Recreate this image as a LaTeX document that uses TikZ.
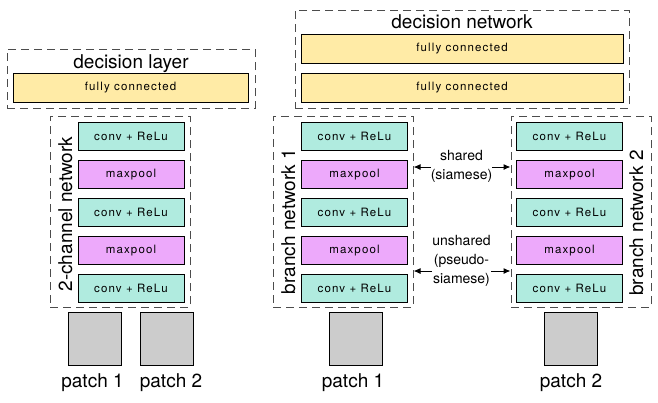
\documentclass[tikz,border=0pt]{standalone}
\usepackage{fontspec}
\setmainfont{TeX Gyre Heros}
\newfontfamily\boxfont[LetterSpace=10]{TeX Gyre Heros}
\usetikzlibrary{arrows.meta}
\definecolor{convcol}{HTML}{B0EBDF}
\definecolor{poolcol}{HTML}{EDA9FB}
\definecolor{fccol}{HTML}{FFEBA6}
\definecolor{patchcol}{HTML}{CCCCCC}
\tikzset{
    layer/.style={
        draw=black, line width=1pt,
        minimum width=106pt, minimum height=28pt, inner sep=0pt,
        font=\boxfont\fontsize{11.5}{13}\selectfont
    },
    conv layer/.style={layer, fill=convcol},
    pool layer/.style={layer, fill=poolcol},
    fc layer/.style={layer, fill=fccol, minimum height=29pt},
    patch/.style={
        draw=black, line width=1pt, fill=patchcol,
        minimum size=53pt, inner sep=0pt
    },
    group box/.style={
        draw=black!70, line width=1pt,
        dash pattern=on 8pt off 5pt, inner sep=0pt
    },
    big label/.style={font=\fontsize{19}{22}\selectfont, inner sep=0pt, anchor=base},
    share label/.style={
        font=\fontsize{14}{19}\selectfont,
        fill=white, align=center, inner sep=0pt
    },
    share arrow/.style={
        {Latex[length=7pt,width=6pt]}-{Latex[length=7pt,width=6pt]},
        line width=1pt
    }
}

\begin{document}
\begin{tikzpicture}[x=1pt, y=-1pt]
                \useasboundingbox (0,0) rectangle (658,402);
                % 2-channel
                \node[group box, minimum width=248pt, minimum height=59pt] (declayer) at (131,78.5) {};
                \node[big label] (declbl) at (131,68) {decision layer};
                \node[fc layer, minimum width=235pt] (F0) at (130.5,87.5) {fully connected};
                \node[group box, minimum width=140pt, minimum height=191pt] (chnet) at (120,211.5) {};
                \node[big label, rotate=90] (chlbl) at (72,214) {2-channel network};
                \node[conv layer] (C1) at (131,136.5) {conv + ReLu};
                \node[pool layer] (C2) at (131,174.5) {maxpool};
                \node[conv layer] (C3) at (131,212.5) {conv + ReLu};
                \node[pool layer] (C4) at (131,250.5) {maxpool};
                \node[conv layer] (C5) at (131,288.5) {conv + ReLu};
                \node[patch] (P1) at (94.5,338.5) {};
                \node[patch] (P2) at (166.5,338.5) {};
                \node[big label] (P1lbl) at (92.5,387) {patch 1};
                \node[big label] (P2lbl) at (171,387) {patch 2};
                % siamese / pseudo-siamese
                \node[group box, minimum width=334pt, minimum height=98pt] (decnet) at (462,59) {};
                \node[big label] (decnetlbl) at (462,28) {decision network};
                \node[fc layer, minimum width=322pt] (F1) at (462,49) {fully connected};
                \node[fc layer, minimum width=322pt] (F2) at (462,88) {fully connected};
                \node[group box, minimum width=140pt, minimum height=191pt] (br1) at (343,211.5) {};
                \node[group box, minimum width=140pt, minimum height=191pt] (br2) at (581,211.5) {};
                \node[big label, rotate=90] (br1lbl) at (295,221.5) {branch network 1};
                \node[big label, rotate=90] (br2lbl) at (643,223) {branch network 2};
                \node[conv layer] (A1) at (354.5,136.5) {conv + ReLu};
                \node[pool layer] (A2) at (354.5,174.5) {maxpool};
                \node[conv layer] (A3) at (354.5,212.5) {conv + ReLu};
                \node[pool layer] (A4) at (354.5,250.5) {maxpool};
                \node[conv layer] (A5) at (354.5,288.5) {conv + ReLu};
                \node[conv layer] (B1) at (569.5,136.5) {conv + ReLu};
                \node[pool layer] (B2) at (569.5,174.5) {maxpool};
                \node[conv layer] (B3) at (569.5,212.5) {conv + ReLu};
                \node[pool layer] (B4) at (569.5,250.5) {maxpool};
                \node[conv layer] (B5) at (569.5,288.5) {conv + ReLu};
                \coordinate (S) at (461.5,167);
                \coordinate (U) at (461.5,271);
                \draw[share arrow] (br1.east |- S) -- (br2.west |- S);
                \draw[share arrow] (br1.east |- U) -- (br2.west |- U);
                \node[share label] (shlbl) at (461.5,166.5) {shared\\(siamese)};
                \node[share label] (unlbl) at (461.5,261) {unshared\\(pseudo-\\siamese)};
                \node[patch] (Q1) at (355.5,338.5) {};
                \node[patch] (Q2) at (570.5,338.5) {};
                \node[big label] (Q1lbl) at (353,387) {patch 1};
                \node[big label] (Q2lbl) at (571,387) {patch 2};
            \end{tikzpicture}
\end{document}
